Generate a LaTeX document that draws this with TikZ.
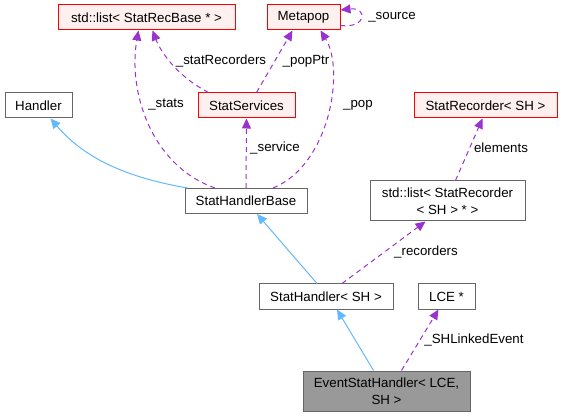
\documentclass[tikz,border=0pt]{standalone}
\usepackage{fontspec}
\setmainfont{Liberation Sans}
\usepackage{xcolor}
\usetikzlibrary{arrows.meta, positioning, calc}
\definecolor{boxline}{HTML}{666666}
\definecolor{redline}{HTML}{FF0000}
\definecolor{redbg}{HTML}{FFF0F0}
\definecolor{grayfill}{HTML}{999999}
\definecolor{inhcolor}{HTML}{63B8FF}
\definecolor{usecolor}{HTML}{9A32CD}

\begin{document}
\begin{tikzpicture}[
  x=1pt, y=-1pt,
  box/.style={
    rectangle, draw=boxline, fill=white, line width=1pt,
    minimum height=25pt, inner sep=2pt, align=center,
    font=\fontsize{13.3}{17}\selectfont
  },
  redbox/.style={box, draw=redline, fill=redbg},
  mainbox/.style={box, fill=grayfill},
  lbl/.style={font=\fontsize{13.3}{17}\selectfont, inner sep=1pt},
  inh/.style={-{Triangle[length=10pt,width=9pt]}, inhcolor, line width=1pt},
  use/.style={-{Triangle[length=10pt,width=9pt]}, usecolor, line width=1pt,
    dash pattern=on 5pt off 4pt},
]
  \useasboundingbox (0,0) rectangle (563,417);

  % Top row
  \node[redbox, minimum width=177pt] (reclist) at (146.5,17.5) {std::list< StatRecBase * >};
  \node[redbox, minimum width=73pt]  (metapop) at (303.5,17.5) {Metapop};

  % Second row
  \node[box, minimum width=67pt]     (handler)  at (38.5,105.5)  {Handler};
  \node[redbox, minimum width=97pt]  (services) at (246.5,105.5) {StatServices};
  \node[redbox, minimum width=143pt] (recorder) at (485.5,105.5) {StatRecorder< SH >};

  % Third row
  \node[box, minimum width=122pt] (base)     at (246,201)   {StatHandlerBase};
  \node[box, minimum width=155pt, minimum height=40pt]
        (rlist) at (447.5,201) {std::list< StatRecorder\\< SH > * >};

  % Fourth row
  \node[box, minimum width=134pt] (stathandler) at (326,296.5)   {StatHandler< SH >};
  \node[box, minimum width=57pt]  (lce)         at (446.5,296.5) {LCE *};

  % Bottom
  \node[mainbox, minimum width=167pt, minimum height=40pt]
        (event) at (386.5,391) {EventStatHandler< LCE,\\SH >};

  % Inheritance
  \draw[inh] ([xshift=3pt]base.north west) .. controls +(-70,-12) and +(30,35) .. ([xshift=12pt]handler.south);
  \draw[inh] ([xshift=-9pt]stathandler.north) -- ([xshift=11pt]base.south);
  \draw[inh] ([xshift=-13pt]event.north) -- ([xshift=11pt]stathandler.south);

  % Usage
  \draw[use] ([xshift=-31pt]base.north) .. controls (150,165) and (128,90) .. ([xshift=-8pt]reclist.south);
  \draw[use] ([xshift=-38pt]services.north) .. controls (175,75) and (160,50) .. ([xshift=6pt]reclist.south);
  \draw[use] ([xshift=10pt]services.north) -- ([xshift=-11pt]metapop.south);
  \draw[use] ([xshift=27pt]base.north) .. controls (330,165) and (345,70) .. ([xshift=17pt]metapop.south);
  \draw[use] ([yshift=-8pt]metapop.east) .. controls +(27,3) and +(27,-3) .. ([yshift=7.5pt]metapop.east);
  \draw[use] (base.north) -- (services.south);
  \draw[use] ([xshift=8pt]rlist.north) -- ([xshift=-3pt]recorder.south);
  \draw[use] ([xshift=16pt]stathandler.north) -- ([xshift=-22pt]rlist.south);
  \draw[use] ([xshift=15pt]event.north) -- ([xshift=-8pt]lce.south);

  % Edge labels
  \node[lbl] (lstats)    at (166,105) {\_stats};
  \node[lbl] (lstatrec)  at (221,61)  {\_statRecorders};
  \node[lbl] (lpopptr)   at (306,61)  {\_popPtr};
  \node[lbl] (lpop)      at (358,105) {\_pop};
  \node[lbl] (lsource)   at (392,17)  {\_source};
  \node[lbl] (lservice)  at (275,148) {\_service};
  \node[lbl] (lelements) at (501,148) {elements};
  \node[lbl] (lrecs)     at (426,252) {\_recorders};
  \node[lbl] (llinked)   at (474,340) {\_SHLinkedEvent};
\end{tikzpicture}
\end{document}
